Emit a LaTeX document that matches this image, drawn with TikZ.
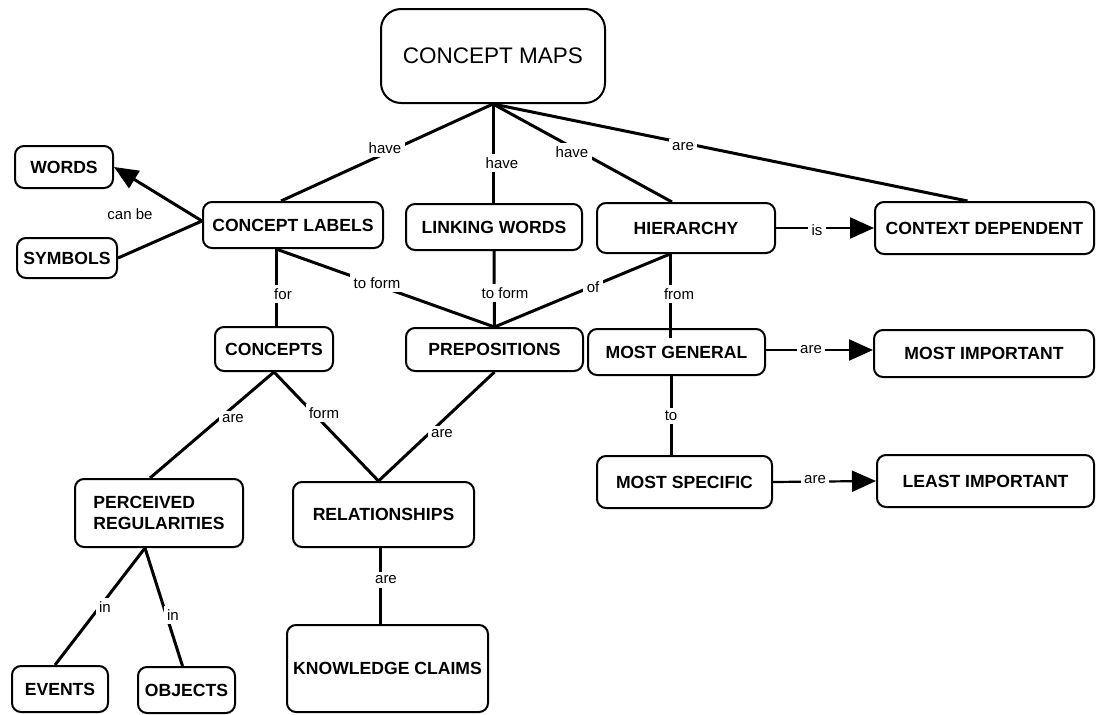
\documentclass[tikz,border=0pt]{standalone}
\usepackage{fontspec}
\setmainfont{Liberation Sans}
\usetikzlibrary{arrows.meta,calc}
\begin{document}
\begin{tikzpicture}[x=1pt,y=-1pt,
  box/.style={draw, line width=2pt, rounded corners=9pt, font=\bfseries\fontsize{17.6}{21}\selectfont, inner sep=0pt, align=center},
  lbl/.style={fill=white, inner sep=3.5pt, font=\fontsize{15}{18}\selectfont},
  conn/.style={line width=3pt},
  arr/.style={line width=2.2pt, -{Triangle[length=24pt,width=21pt]}}]
\useasboundingbox (0,0) rectangle (1096,715);

% nodes
\node[box, rounded corners=20pt, minimum width=224pt, minimum height=94pt, font=\fontsize{22.5}{27}\selectfont] (cmap) at (493,56) {CONCEPT MAPS};
\node[box, minimum width=98pt, minimum height=42pt] (words) at (64,167) {WORDS};
\node[box, minimum width=100pt, minimum height=40pt] (symbols) at (67,258) {SYMBOLS};
\node[box, minimum width=180pt, minimum height=46pt] (clabels) at (293,225) {CONCEPT LABELS};
\node[box, minimum width=176pt, minimum height=46pt] (lwords) at (494,227) {LINKING WORDS};
\node[box, minimum width=178pt, minimum height=50pt] (hier) at (686,228) {HIERARCHY};
\node[box, minimum width=219pt, minimum height=52pt] (cdep) at (984.5,228) {CONTEXT DEPENDENT};
\node[box, minimum width=118pt, minimum height=44pt] (concepts) at (274,349) {CONCEPTS};
\node[box, minimum width=177pt, minimum height=43pt] (prep) at (494.5,349.5) {PREPOSITIONS};
\node[box, minimum width=177pt, minimum height=46pt] (mgen) at (676.5,352) {MOST GENERAL};
\node[box, minimum width=220pt, minimum height=47pt] (mimp) at (984,353.5) {MOST IMPORTANT};
\node[box, minimum width=175pt, minimum height=52pt] (mspec) at (684.5,482) {MOST SPECIFIC};
\node[box, minimum width=217pt, minimum height=52pt] (limp) at (985.5,481) {LEAST IMPORTANT};
\node[box, minimum width=168pt, minimum height=68pt, align=left] (perc) at (159,513) {PERCEIVED\\REGULARITIES};
\node[box, minimum width=181pt, minimum height=65pt] (rel) at (383.5,514.5) {RELATIONSHIPS};
\node[box, minimum width=96pt, minimum height=46pt] (events) at (60,689) {EVENTS};
\node[box, minimum width=97pt, minimum height=46pt] (objects) at (186.5,690) {OBJECTS};
\node[box, minimum width=201pt, minimum height=87pt] (kclaims) at (387.5,668.5) {KNOWLEDGE CLAIMS};

% helper coordinates on node borders
\coordinate (clt) at ([xshift=-12pt]clabels.north);
\coordinate (clb) at ([xshift=-17pt]clabels.south);
\coordinate (clw) at ([yshift=4pt]clabels.west);
\coordinate (ht) at ([xshift=-14pt]hier.north);
\coordinate (hb) at ([xshift=-16pt]hier.south);
\coordinate (cdt) at ([xshift=-17pt]cdep.north);
\coordinate (mgin) at ([xshift=-6pt,yshift=-10pt]mgen.north);
\coordinate (mgb) at ([xshift=-5pt]mgen.south);
\coordinate (pt) at ([xshift=-9pt]perc.north);
\coordinate (pb) at ([xshift=-14pt]perc.south);
\coordinate (rt) at ([xshift=-5pt]rel.north);
\coordinate (rb) at ([xshift=-3pt]rel.south);
\coordinate (evt) at ([xshift=-5pt]events.north);
\coordinate (obt) at ([xshift=-4pt]objects.north);
\coordinate (mge) at ([yshift=2pt]mgen.east);

% connectors
\draw[conn] (cmap.south) -- (clt);
\draw[conn] (cmap.south) -- (cmap.south |- lwords.north);
\draw[conn] (cmap.south) -- (ht);
\draw[conn] (cmap.south) -- (cdt);
\draw[conn, -{Triangle[length=24pt,width=20pt]}] (clw) -- (words.east);
\draw[conn] (clw) -- (symbols.east);
\draw[arr] (hier.east) -- (cdep.west);
\draw[conn] (clb) -- (clb |- concepts.north);
\draw[conn] (clb) -- (prep.north);
\draw[conn] (lwords.south) -- (prep.north);
\draw[conn] (hb) -- (prep.north);
\draw[conn] (hb) -- (hb |- mgin);
\draw[arr] (mge) -- (mge -| mimp.west);
\draw[conn] (mgb) -- (mgb |- mspec.north);
\draw[arr] (mspec.east) -- (limp.west);
\draw[conn] (concepts.south) -- (pt);
\draw[conn] (concepts.south) -- (rt);
\draw[conn] (prep.south) -- (rt);
\draw[conn] (rb) -- (rb |- kclaims.north);
\draw[conn] (pb) -- (evt);
\draw[conn] (pb) -- (obt);

% linking labels
\node[lbl] (l1) at (385,148) {have};
\node[lbl] (l2) at (502,163) {have};
\node[lbl] (l3) at (572,152) {have};
\node[lbl] (l4) at (683,147) {are};
\node[lbl, fill=none] (l5) at (130,214) {can be};
\node[lbl] (l6) at (817,230) {is};
\node[lbl] (l7) at (283,294) {for};
\node[lbl] (l8) at (377,283) {to form};
\node[lbl] (l9) at (505,293) {to form};
\node[lbl] (l10) at (593,287) {of};
\node[lbl] (l11) at (679,294) {from};
\node[lbl] (l12) at (811,350) {are};
\node[lbl] (l13) at (671,416) {to};
\node[lbl] (l14) at (815,480) {are};
\node[lbl] (l15) at (233,419) {are};
\node[lbl] (l16) at (324,413) {form};
\node[lbl] (l17) at (442,434) {are};
\node[lbl] (l18) at (386,580) {are};
\node[lbl] (l19) at (105,607) {in};
\node[lbl] (l20) at (173,615) {in};
\end{tikzpicture}
\end{document}
